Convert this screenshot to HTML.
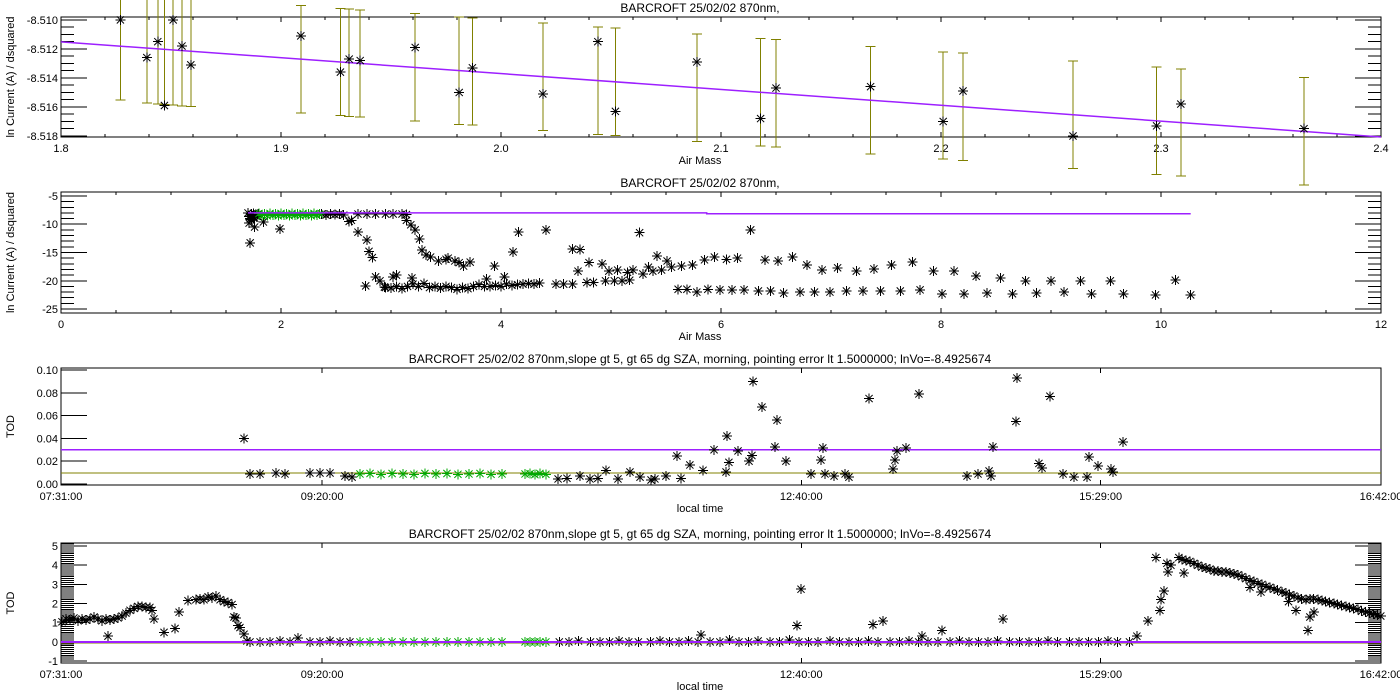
<!DOCTYPE html>
<html><head><meta charset="utf-8"><style>
html,body{margin:0;padding:0;background:#fff;}
svg{display:block;font-family:"Liberation Sans",sans-serif;}
text{fill:#000;}
</style></head><body>
<svg id="chart" width="1400" height="700" viewBox="0 0 1400 700" xmlns="http://www.w3.org/2000/svg"></svg>
<script>
// ---------- Panel 1 data ----------
const p1AirMass=[1.827,1.839,1.844,1.847,1.851,1.855,1.859,1.909,1.927,1.931,1.936,1.961,1.981,1.987,2.019,2.044,2.052,2.089,2.118,2.125,2.168,2.201,2.210,2.260,2.298,2.309,2.365];
const p1Values=[-8.5100,-8.5126,-8.5115,-8.5159,-8.5100,-8.5118,-8.5131,-8.5111,-8.5136,-8.5127,-8.5128,-8.5119,-8.5150,-8.5133,-8.5151,-8.5115,-8.5163,-8.5129,-8.5168,-8.5147,-8.5146,-8.5170,-8.5149,-8.5180,-8.5173,-8.5158,-8.5175];
const p1Errors=[0.0037,0.0038,0.0038,0.0038,0.0038,0.0038,0.0038,0.0037,0.0037,0.0037,0.0037,0.0037,0.0037,0.0037,0.0037,0.0037,0.0037,0.0037,0.0037,0.0037,0.0037,0.0037,0.0037,0.0037,0.0037,0.0037,0.0037];
const p1FitIntercept=[-8.49186];
const p1FitSlope=[-0.01092];
const p1XTicks=[1.8,1.9,2.0,2.1,2.2,2.3,2.4];
const p1XTickLabels=["1.8","1.9","2.0","2.1","2.2","2.3","2.4"];
const p1YTicks=[-8.510,-8.512,-8.514,-8.516,-8.518];
const p1YTickLabels=["-8.510","-8.512","-8.514","-8.516","-8.518"];

// ---------- Panel 2 data ----------
const p2BlackAm=[1.70,1.71,1.72,1.73,1.74,1.75,1.76,1.77,1.78,1.79,1.71,1.72,1.76,1.84,1.99,1.73,1.75,
2.37,2.41,2.45,2.49,2.53,2.57,2.62,2.64,2.70,2.78,2.80,2.83,2.70,2.78,2.86,2.95,3.02,3.10,3.14,
3.14,3.18,3.22,3.26,3.28,3.32,3.36,3.43,3.50,3.58,3.66,3.72,3.52,3.62,3.94,4.11,4.16,4.41,
2.77,2.86,2.90,2.94,3.02,2.95,3.00,3.05,3.10,3.15,3.20,3.25,3.30,3.35,3.40,3.45,3.50,3.55,3.60,3.65,3.70,3.75,3.80,3.85,3.90,3.95,4.00,4.05,4.10,4.15,4.20,4.25,4.30,4.35,3.87,4.03,3.19,3.05,
4.50,4.57,4.65,4.65,4.72,4.70,4.78,4.84,4.80,
4.92,4.98,5.06,5.15,5.20,5.26,5.29,5.34,5.38,5.42,5.46,5.51,5.55,5.64,5.74,5.85,5.94,6.05,6.15,6.27,6.40,6.52,6.65,6.78,6.92,7.06,7.23,7.39,7.55,7.74,7.93,8.12,8.32,8.54,8.77,9.00,9.27,9.54,10.13,
4.95,5.03,5.10,5.17,5.61,5.69,5.78,5.88,5.99,6.10,6.21,6.34,6.45,6.57,6.72,6.85,6.99,7.14,7.29,7.45,7.63,7.81,8.01,8.21,8.42,8.65,8.87,9.12,9.37,9.66,9.95,10.27];
const p2BlackVal=[-8.0,-8.6,-9.0,-8.2,-8.7,-8.1,-8.9,-8.3,-8.6,-8.2,-9.8,-13.3,-10.5,-9.6,-10.8,-9.2,-8.9,
-8.2,-8.4,-8.2,-8.3,-8.2,-8.4,-9.5,-9.3,-11.4,-12.8,-14.8,-15.9,-8.2,-8.2,-8.2,-8.2,-8.2,-8.2,-8.3,
-9.3,-10.1,-11.0,-12.6,-14.6,-15.4,-15.8,-16.5,-16.2,-16.5,-17.4,-16.7,-16.0,-16.8,-17.4,-14.9,-11.4,-11.0,
-20.9,-19.3,-20.0,-21.1,-19.3,-21.2,-21.3,-21.0,-21.4,-21.0,-20.6,-21.0,-20.5,-21.2,-21.0,-21.3,-21.0,-21.2,-21.5,-21.2,-21.4,-21.0,-20.7,-21.0,-21.0,-20.8,-21.0,-20.6,-20.8,-20.7,-20.6,-20.5,-20.6,-20.4,-19.7,-19.3,-19.5,-19.0,
-20.6,-20.6,-20.6,-14.4,-14.5,-18.3,-20.3,-20.3,-16.8,
-17.0,-18.3,-18.1,-18.5,-18.1,-11.5,-18.8,-17.6,-18.3,-15.6,-18.1,-16.5,-17.6,-17.4,-17.2,-16.3,-15.8,-16.2,-16.0,-11.0,-16.3,-16.5,-15.8,-17.2,-18.1,-17.7,-18.3,-17.9,-17.2,-16.7,-18.3,-18.3,-19.2,-19.5,-20.0,-20.0,-20.0,-20.0,-19.9,
-20.0,-20.0,-20.0,-19.9,-21.5,-21.5,-22.0,-21.5,-21.6,-21.6,-21.6,-21.8,-21.8,-22.2,-22.0,-22.0,-22.0,-21.8,-21.8,-21.8,-21.8,-21.6,-22.3,-22.3,-22.2,-22.3,-22.2,-22.0,-22.3,-22.3,-22.5,-22.5];
const p2GreenAm=[1.80,1.825,1.85,1.875,1.90,1.925,1.95,1.975,2.00,2.025,2.05,2.075,2.10,2.125,2.15,2.175,2.20,2.225,2.25,2.275,2.30,2.325,2.35];
const p2GreenVal=[-8.1,-8.5,-8.2,-8.5,-8.1,-8.4,-8.2,-8.5,-8.1,-8.4,-8.2,-8.5,-8.1,-8.4,-8.2,-8.5,-8.1,-8.4,-8.2,-8.5,-8.1,-8.4,-8.2];
const p2FitAm=[1.70,5.87,5.87,10.27];
const p2FitVal=[-8.0,-8.0,-8.15,-8.15];
const p2XTicks=[0,2,4,6,8,10,12];
const p2XTickLabels=["0","2","4","6","8","10","12"];
const p2YTicks=[-5,-10,-15,-20,-25];
const p2YTickLabels=["-5","-10","-15","-20","-25"];

// ---------- Panel 3 data (minutes since 07:31) ----------
const p3BlackMin=[76.4,78.9,83.1,89.7,93.5,103.9,108.1,112.3,118.5,121.5,
207.5,211.2,216.6,220.8,224.1,227.5,232.5,237.5,241.7,246.3,247.9,252.5,257.1,258.8,262.5,268.0,272.6,278.0,278.8,277.6,282.6,287.2,288.4,288.9,292.6,298.0,298.9,302.6,313.1,318.0,317.2,318.9,322.7,327.3,328.9,337.3,347.3,348.1,349.0,352.7,358.1,378.2,382.8,387.4,388.2,389.0,398.6,399.0,408.2,409.5,412.8,418.3,422.8,428.3,429.1,432.9,438.3,439.1,443.3];
const p3BlackVal=[0.040,0.0088,0.0088,0.0096,0.0088,0.0096,0.0096,0.0096,0.007,0.006,
0.0044,0.005,0.007,0.0044,0.005,0.012,0.0044,0.0105,0.006,0.0035,0.0044,0.007,0.0246,0.005,0.0167,0.012,0.030,0.042,0.019,0.0105,0.029,0.020,0.025,0.090,0.0675,0.0325,0.056,0.020,0.0088,0.0316,0.021,0.0088,0.007,0.0088,0.006,0.075,0.013,0.021,0.029,0.0316,0.079,0.007,0.0088,0.0114,0.007,0.0325,0.055,0.093,0.018,0.014,0.077,0.0088,0.006,0.006,0.0237,0.0158,0.013,0.0105,0.037];
const p3GreenMin=[124.8,129.0,133.6,138.2,142.8,147.3,151.9,156.5,161.1,165.7,170.3,174.9,179.5,184.1,193.7,195.8,197.8,199.9,202.4];
const p3GreenVal=[0.0088,0.0092,0.0085,0.0092,0.0088,0.0085,0.0092,0.0088,0.0092,0.0085,0.0088,0.0092,0.0085,0.0088,0.0088,0.009,0.0082,0.0092,0.0085];
const p3LineHigh=[0.030];
const p3LineLow=[0.0095];
const timeTicks=[0,109,309,434,551];
const timeTickLabels=["07:31:00","09:20:00","12:40:00","15:29:00","16:42:00"];
const p3YTicks=[0,0.02,0.04,0.06,0.08,0.10];
const p3YTickLabels=["0.00","0.02","0.04","0.06","0.08","0.10"];

// ---------- Panel 4 data ----------
const p4BlackMin=[0.4,2.1,3.8,5.4,7.1,8.8,10.4,12.1,13.8,15.4,17.1,18.8,19.6,20.5,22.1,23.8,25.5,27.1,28.8,30.5,32.1,33.8,35.5,37.1,38.0,38.8,43.0,47.6,49.3,53.0,56.3,58.0,59.7,61.4,63.0,64.7,66.4,68.0,69.7,71.4,72.2,73.0,73.9,74.7,76.4,77.6,
78.9,83.1,87.2,91.4,95.6,98.9,103.9,108.1,112.3,116.5,120.6,
208,212,216,221,225,229,233,237,241,246,250,254,258,262,266,271,275,279,283,287,291,296,300,304,308,312,316,321,325,329,333,337,341,346,350,354,358,362,366,371,375,379,383,387,391,396,400,404,408,412,416,421,425,429,433,437,441,446,
267.1,307.2,308.9,338.9,343.1,359.4,367.7,393.2,449.1,453.7,457.0,458.7,459.1,460.4,461.6,462.1,463.3,466.6,468.7,
467.9,469.6,471.2,472.9,474.6,476.2,477.9,479.6,481.3,482.9,484.6,486.3,487.9,489.6,491.3,492.9,494.6,496.3,497.9,499.6,501.3,502.9,504.6,506.3,507.9,509.6,511.3,512.9,514.6,516.3,517.9,519.6,521.3,522.9,524.6,526.3,527.9,529.6,531.3,532.9,534.6,536.3,537.9,539.6,541.3,542.9,544.6,546.3,547.9,549.6,550.9,
496.3,500.9,512.4,515.5,520.5,521.3,523.0];
const p4BlackVal=[1.05,1.2,1.15,1.25,1.1,1.2,1.15,1.2,1.3,1.2,1.1,1.2,0.3,1.15,1.2,1.25,1.35,1.5,1.65,1.75,1.85,1.85,1.8,1.8,1.65,1.2,0.5,0.7,1.55,2.15,2.2,2.25,2.2,2.35,2.3,2.4,2.2,2.1,2.05,1.95,1.3,1.25,0.85,0.75,0.4,0.05,
0.0,0.0,0.0,0.05,0.0,0.2,0.0,0.0,0.05,0.0,0.0,
0.0,0.0,0.05,0.0,0.0,0.0,0.05,0.0,0.0,0.0,0.05,0.0,0.0,0.05,0.0,0.0,0.0,0.1,0.0,0.0,0.05,0.0,0.0,0.1,0.0,0.0,0.0,0.05,0.0,0.0,0.0,0.05,0.0,0.0,0.0,0.05,0.0,0.0,0.0,0.0,0.05,0.0,0.0,0.0,0.05,0.0,0.0,0.0,0.0,0.05,0.0,0.0,0.0,0.0,0.0,0.05,0.0,0.0,
0.37,0.85,2.75,0.9,1.1,0.3,0.6,1.2,0.3,1.1,4.4,1.65,2.2,2.65,4.1,3.65,4.0,4.4,3.6,
4.3,4.25,4.2,4.1,4.0,3.9,3.85,3.8,3.7,3.7,3.65,3.65,3.6,3.55,3.5,3.4,3.3,3.2,3.15,3.05,3.0,2.9,2.85,2.75,2.7,2.6,2.55,2.45,2.4,2.3,2.25,2.2,2.25,2.25,2.2,2.15,2.1,2.05,2.0,1.95,1.9,1.85,1.8,1.75,1.7,1.6,1.55,1.5,1.45,1.4,1.35,
2.85,2.6,2.1,1.65,0.6,1.3,1.55];
const p4GreenMin=[124.8,129.0,133.6,138.2,142.8,147.3,151.9,156.5,161.1,165.7,170.3,174.9,179.5,184.1,193.7,195.8,197.8,199.9,202.4];
const p4GreenVal=[0,0,0,0,0,0,0,0,0,0,0,0,0,0,0,0,0,0,0];
const p4Line=[0];
const p4YTicks=[-1,0,1,2,3,4,5];
const p4YTickLabels=["-1","0","1","2","3","4","5"];

// ---------- drawing ----------
const NS="http://www.w3.org/2000/svg";
const svg=document.getElementById('chart');
const PURPLE="#9d1fff", OLIVE="#808000", GREEN="#00a800";
function mk(tag,attrs,parent){const e=document.createElementNS(NS,tag);for(const k in attrs)e.setAttribute(k,attrs[k]);(parent||svg).appendChild(e);return e;}
function line(x1,y1,x2,y2,stroke,w,parent){return mk('line',{x1:x1,y1:y1,x2:x2,y2:y2,stroke:stroke,'stroke-width':w||1,'shape-rendering':'crispEdges'},parent);}
function txt(x,y,s,anchor,size,parent){const t=mk('text',{x:x,y:y,'text-anchor':anchor||'middle','font-size':size||11},parent);t.textContent=s;return t;}
function star(g,x,y,color){
  const r=5,d=3.6;
  line(x-r,y,x+r,y,color,1,g);line(x,y-r,x,y+r,color,1,g);
  mk('line',{x1:x-d,y1:y-d,x2:x+d,y2:y+d,stroke:color,'stroke-width':1},g);
  mk('line',{x1:x-d,y1:y+d,x2:x+d,y2:y-d,stroke:color,'stroke-width':1},g);
}
const L=61,R=1381;
const P={
 p1:{top:17,bot:137,xmin:1.8,xmax:2.4,ymin:-8.51807,ymax:-8.5098},
 p2:{top:192,bot:313,xmin:0,xmax:12,ymin:-25.7,ymax:-4.3},
 p3:{top:368,bot:485,xmin:0,xmax:551,ymin:-0.0009,ymax:0.1018},
 p4:{top:543,bot:663,xmin:0,xmax:551,ymin:-1.1,ymax:5.16}
};
function sx(p,v){return L+(v-p.xmin)/(p.xmax-p.xmin)*(R-L);}
function sy(p,v){return p.bot-(v-p.ymin)/(p.ymax-p.ymin)*(p.bot-p.top);}

function frame(p,name,title,xt,xl,yt,yl,xTitle,yTitle,xMinorStep,yMinorStep,rightTicks){
  const g=mk('g',{});
  
  
  mk('rect',{x:L,y:p.top,width:R-L,height:p.bot-p.top,fill:'none',stroke:'#000','stroke-width':1,'shape-rendering':'crispEdges'},g);
  const tt=txt(700,p.top-5,title,'middle',12,g);
  
  
  xt.forEach((v,i)=>{const x=sx(p,v);line(x,p.bot,x,p.bot-5,'#000',1,g);line(x,p.top,x,p.top+5,'#000',1,g);
    const t=txt(x,p.bot+15,xl[i],'middle',11,g);
    
    });
  if(xMinorStep){for(let v=p.xmin;v<=p.xmax+1e-9;v+=xMinorStep){const x=sx(p,v);line(x,p.bot,x,p.bot-3,'#000',1,g);line(x,p.top,x,p.top+3,'#000',1,g);}}
  yt.forEach((v,i)=>{const y=sy(p,v);line(L,y,L+26,y,'#000',1,g);if(rightTicks)line(R,y,R-26,y,'#000',1,g);
    const t=txt(L-3,y+4,yl[i],'end',11,g);
    
    });
  if(yMinorStep){const s=Math.ceil(p.ymin/yMinorStep);for(let k=s;k*yMinorStep<=p.ymax;k++){const y=sy(p,k*yMinorStep);line(L,y,L+13,y,'#000',1,g);if(rightTicks)line(R,y,R-13,y,'#000',1,g);}}
  const xa=txt(700,p.bot+27,xTitle,'middle',11,g);
  
  
  const cy=(p.top+p.bot)/2;
  const ya=txt(0,0,yTitle,'middle',11,g);
  ya.setAttribute('transform','translate(14,'+cy+') rotate(-90)');
  
  
}
function scatter(p,name,xs,ys,color){
  const g=mk('g',{});
  
  
  xs.forEach((x,i)=>star(g,sx(p,x),sy(p,ys[i]),color));
}

// Panel 1
frame(P.p1,'panel-1','BARCROFT 25/02/02 870nm,',p1XTicks,p1XTickLabels,p1YTicks,p1YTickLabels,'Air Mass','ln Current (A) / dsquared',0.02,0.0005,true);
(function(){
  const p=P.p1;
  const g=mk('g',{});
  
  
  p1AirMass.forEach((a,i)=>{
    const c=p1FitIntercept[0]+p1FitSlope[0]*a;
    const x=sx(p,a),y1=sy(p,c+p1Errors[i]),y2=sy(p,c-p1Errors[i]);
    line(x,y1,x,y2,OLIVE,1,g);line(x-5,y1,x+5,y1,OLIVE,1,g);line(x-5,y2,x+5,y2,OLIVE,1,g);
  });
  const fit=mk('line',{x1:sx(p,p.xmin),y1:sy(p,p1FitIntercept[0]+p1FitSlope[0]*p.xmin),x2:sx(p,p.xmax),y2:sy(p,p1FitIntercept[0]+p1FitSlope[0]*p.xmax),stroke:PURPLE,'stroke-width':1.5});
  
  
  scatter(p,'measurements',p1AirMass,p1Values,'#000');
})();

// Panel 2
frame(P.p2,'panel-2','BARCROFT 25/02/02 870nm,',p2XTicks,p2XTickLabels,p2YTicks,p2YTickLabels,'Air Mass','ln Current (A) / dsquared',0.5,1,true);
scatter(P.p2,'all-points',p2BlackAm,p2BlackVal,'#000');
scatter(P.p2,'selected-points',p2GreenAm,p2GreenVal,GREEN);
(function(){
  const p=P.p2;
  const pl=mk('polyline',{points:p2FitAm.map((a,i)=>sx(p,a)+','+sy(p,p2FitVal[i])).join(' '),fill:'none',stroke:PURPLE,'stroke-width':1.5});
  
  
})();

// Panel 3
const t3='BARCROFT 25/02/02 870nm,slope gt 5, gt 65 dg SZA, morning, pointing error lt 1.5000000; lnVo=-8.4925674';
frame(P.p3,'panel-3',t3,timeTicks,timeTickLabels,p3YTicks,p3YTickLabels,'local time','TOD',null,null,false);
(function(){
  const p=P.p3;
  const a=line(L,sy(p,p3LineHigh[0]),R,sy(p,p3LineHigh[0]),PURPLE,1.5);
  
  
  const b=line(L,sy(p,p3LineLow[0]),R,sy(p,p3LineLow[0]),OLIVE,1);
  
  
})();
scatter(P.p3,'tod-points',p3BlackMin,p3BlackVal,'#000');
scatter(P.p3,'tod-selected',p3GreenMin,p3GreenVal,GREEN);

// Panel 4
frame(P.p4,'panel-4',t3,timeTicks,timeTickLabels,p4YTicks,p4YTickLabels,'local time','TOD',null,0.1,true);
scatter(P.p4,'tod-points-full',p4BlackMin,p4BlackVal,'#000');
scatter(P.p4,'tod-selected-full',p4GreenMin,p4GreenVal,GREEN);
(function(){
  const p=P.p4;
  const b=line(L,sy(p,p4Line[0])+1,R,sy(p,p4Line[0])+1,OLIVE,1);
  
  
  const a=line(L,sy(p,p4Line[0]),R,sy(p,p4Line[0]),PURPLE,2);
  
  
})();
</script>
</body></html>
